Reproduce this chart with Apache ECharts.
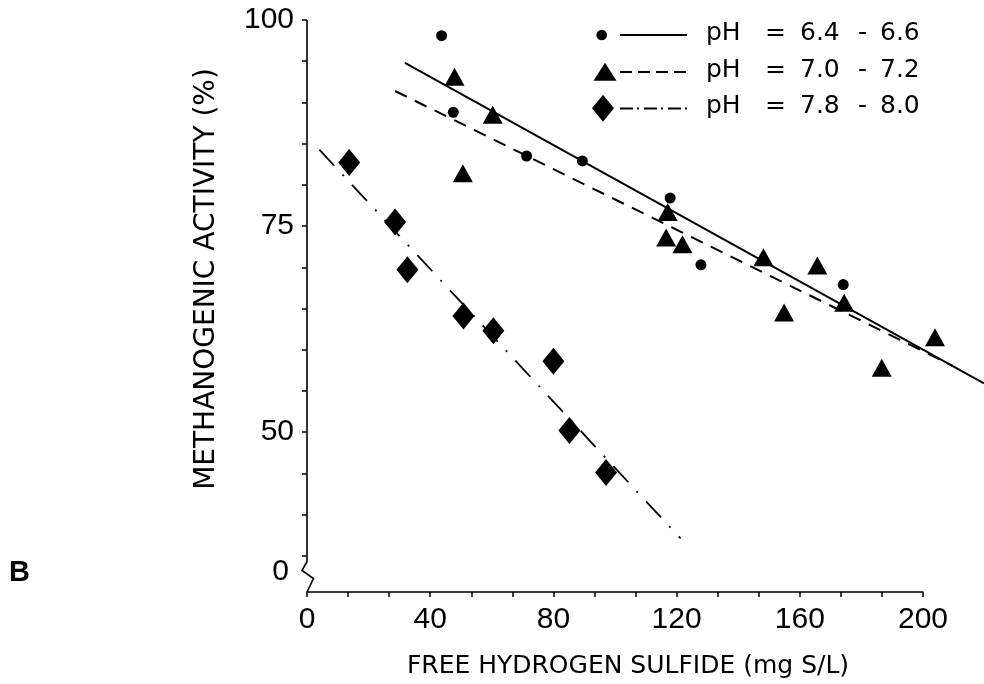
<!DOCTYPE html>
<html>
<head>
<meta charset="utf-8">
<script src="https://cdn.jsdelivr.net/npm/echarts@6/dist/echarts.min.js"></script>
<style>
html,body{margin:0;padding:0;background:#fff;}
#c{width:984px;height:684px;}
</style>
</head>
<body>
<div id="c"></div>
<script>
// ---- data ----
const seriesNames = ['pH = 6.4 - 6.6', 'pH = 7.0 - 7.2', 'pH = 7.8 - 8.0'];

const ph66X = [43.7, 47.5, 71.3, 89.4, 117.9, 127.9, 174.1];
const ph66Y = [98.1, 88.8, 83.5, 82.9, 78.4, 70.3, 67.9];

const ph70X = [47.9, 60.3, 50.6, 117.1, 116.6, 121.9, 148.2, 165.7, 154.9, 174.4, 203.9, 186.6];
const ph70Y = [93.1, 88.5, 81.4, 76.7, 73.6, 72.8, 71.2, 70.2, 64.5, 65.7, 61.5, 57.8];

const ph78X = [13.7, 28.6, 32.6, 50.8, 60.5, 80.0, 85.2, 97.1];
const ph78Y = [82.7, 75.5, 69.7, 64.1, 62.3, 58.6, 50.2, 45.1];

// regression lines (end points)
const fit66X = [31.8, 219.8];
const fit66Y = [94.8, 56.0];
const fit70X = [28.6, 209.7];
const fit70Y = [91.4, 58.1];
const fit78X = [4.0, 121.3];
const fit78Y = [84.3, 37.2];

// axes
const xMin = 0, xMax = 200, xInterval = 40;
const yMin = 30.6, yMax = 100;
const yTickValues = [35, 40, 45, 50, 55, 60, 65, 70, 75, 80, 85, 90, 95, 100];
const yLabelValues = [33, 50, 75, 100];   // 33 marks the broken-axis "0"
const yBreakValue = 33;
const yBreakStart = 34.3;

const zip = (xs, ys) => xs.map((x, i) => [x, ys[i]]);

const W = 984, H = 684;
const gridLeft = 307, gridRight = 61, gridTop = 20, gridBottom = 91;
// the fit lines run past x = 200 to the page edge: same scale on a wider hidden grid
const fitXMax = xMax * (W - gridLeft) / (W - gridLeft - gridRight);

const chart = echarts.init(document.getElementById('c'), null, {renderer: 'canvas'});
const black = '#000';
const tickFont = 'Liberation Sans';
const titleFont = 'DejaVu Sans';

const option = {
  animation: false,
  backgroundColor: '#fff',
  grid: [
    {left: gridLeft, right: gridRight, top: gridTop, bottom: gridBottom, containLabel: false},
    {left: gridLeft, right: 0, top: gridTop, bottom: gridBottom, containLabel: false}
  ],
  xAxis: [{
    type: 'value', min: xMin, max: xMax, interval: xInterval, gridIndex: 0,
    name: 'FREE HYDROGEN SULFIDE (mg S/L)',
    nameLocation: 'middle', nameGap: 62,
    nameTextStyle: {fontFamily: titleFont, fontSize: 25, color: black, padding: [0, 0, 0, 26]},
    axisLine: {show: true, lineStyle: {color: black, width: 1.6}},
    axisTick: {show: true, length: 5, lineStyle: {color: black, width: 1.5}},
    minorTick: {show: true, splitNumber: 3, length: 5, lineStyle: {color: black, width: 1.5}},
    axisLabel: {fontFamily: tickFont, fontSize: 30, color: black, margin: 13},
    splitLine: {show: false}, minorSplitLine: {show: false}
  }, {
    type: 'value', min: xMin, max: fitXMax, gridIndex: 1, show: false
  }],
  yAxis: [{
    type: 'value', min: yMin, max: yMax, gridIndex: 0,
    name: 'METHANOGENIC ACTIVITY (%)',
    nameLocation: 'middle', nameGap: 86,
    nameTextStyle: {fontFamily: titleFont, fontSize: 28, color: black, padding: [0, 0, 0, 54]},
    axisLine: {show: false},
    axisTick: {show: true, length: 5, customValues: yTickValues, lineStyle: {color: black, width: 1.5}},
    axisLabel: {
      customValues: yLabelValues, fontFamily: tickFont, fontSize: 30, color: black, margin: 13,
      formatter: v => (v === yBreakValue ? '{z|0}' : String(v)),
      rich: {z: {fontFamily: tickFont, fontSize: 30, color: black, padding: [0, 5, 0, 0]}}
    },
    splitLine: {show: false}
  }, {
    type: 'value', min: yMin, max: yMax, gridIndex: 1, show: false
  }],
  series: [
    {name: seriesNames[0] + ' fit', type: 'line', xAxisIndex: 1, yAxisIndex: 1, data: zip(fit66X, fit66Y),
     symbol: 'none', clip: false, lineStyle: {color: black, width: 2, type: 'solid'}, z: 2},
    {name: seriesNames[1] + ' fit', type: 'line', xAxisIndex: 1, yAxisIndex: 1, data: zip(fit70X, fit70Y),
     symbol: 'none', clip: false, lineStyle: {color: black, width: 2, type: [13, 9]}, z: 2},
    {name: seriesNames[2] + ' fit', type: 'line', xAxisIndex: 1, yAxisIndex: 1, data: zip(fit78X, fit78Y),
     symbol: 'none', clip: false, lineStyle: {color: black, width: 1.8, type: [22, 12, 2, 12]}, z: 2},
    {name: seriesNames[0], type: 'scatter', data: zip(ph66X, ph66Y), symbol: 'circle', symbolSize: 11, clip: false,
     itemStyle: {color: black, opacity: 1}, z: 3},
    {name: seriesNames[1], type: 'scatter', data: zip(ph70X, ph70Y), symbol: 'triangle', symbolSize: [20, 18], clip: false,
     itemStyle: {color: black, opacity: 1}, z: 3},
    {name: seriesNames[2], type: 'scatter', data: zip(ph78X, ph78Y), symbol: 'diamond', symbolSize: [22, 27], clip: false,
     itemStyle: {color: black, opacity: 1}, z: 3}
  ]
};
chart.setOption(option);

// ---- decorations: y axis line with break, legend, panel letter ----
const pTop = chart.convertToPixel({gridIndex: 0}, [xMin, yMax]);
const pBrk = chart.convertToPixel({gridIndex: 0}, [xMin, yBreakStart]);
const pBot = chart.convertToPixel({gridIndex: 0}, [xMin, yMin]);

const legendText = (label, top) => {
  const m = label.match(/^(pH)\s*(=)\s*([\d.]+)\s*(-)\s*([\d.]+)$/);
  const st = {fontFamily: titleFont, fontSize: 25, color: black};
  return {
    type: 'text', left: 706, top: top,
    style: {
      text: `{a|${m[1]}}{b|${m[2]}}{c|${m[3]}}{d|${m[4]}}{e|${m[5]}}`,
      rich: {
        a: Object.assign({width: 59}, st),
        b: Object.assign({width: 35}, st),
        c: Object.assign({width: 58}, st),
        d: Object.assign({width: 22}, st),
        e: st
      }
    }
  };
};

chart.setOption({
  graphic: [
    {type: 'polyline', z: 10, silent: true,
     shape: {points: [pTop, pBrk, [pBrk[0] - 5, pBrk[1] + 9], [pBrk[0] + 6.5, pBrk[1] + 17], pBot]},
     style: {stroke: black, lineWidth: 1.6, fill: null}},
    // legend row 1
    {type: 'circle', shape: {cx: 601.7, cy: 35, r: 5.3}, style: {fill: black}},
    {type: 'line', shape: {x1: 620, y1: 35, x2: 687, y2: 35}, style: {stroke: black, lineWidth: 2}},
    legendText(seriesNames[0], 21),
    // legend row 2
    {type: 'polygon', shape: {points: [[593.5, 80.7], [616.5, 80.7], [605, 62.7]]}, style: {fill: black}},
    {type: 'line', shape: {x1: 620, y1: 72, x2: 687, y2: 72}, style: {stroke: black, lineWidth: 2, lineDash: [12, 6]}},
    legendText(seriesNames[1], 58),
    // legend row 3
    {type: 'polygon', shape: {points: [[592, 108.3], [603, 94.8], [614, 108.3], [603, 121.8]]}, style: {fill: black}},
    {type: 'line', shape: {x1: 620, y1: 108.5, x2: 687, y2: 108.5}, style: {stroke: black, lineWidth: 2, lineDash: [13, 4, 2, 5]}},
    legendText(seriesNames[2], 94),
    // panel letter
    {type: 'text', left: 9, top: 558, style: {text: 'B', fontFamily: tickFont, fontWeight: 'bold', fontSize: 29, fill: black}}
  ]
});
</script>
</body>
</html>
